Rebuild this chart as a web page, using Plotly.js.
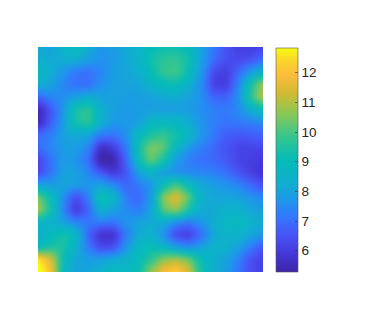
<!DOCTYPE html>
<html><head><meta charset="utf-8">
<script src="https://cdn.plot.ly/plotly-3.0.1.min.js"></script>
<style>html,body{margin:0;padding:0;background:#fff}.hm ~ .hm image{filter:blur(2.8px)}</style></head>
<body><div id="c" style="width:372px;height:324px"></div>
<script>
const row00=[8.2,8.0,8.6,9.0,8.3,7.7,7.9,8.2,8.5,9.0,9.2,9.2,9.0,8.0,7.2,6.5,6.1,6.0,6.2];
const row01=[8.3,8.2,8.3,8.3,7.9,7.6,7.8,8.1,8.5,9.3,9.7,9.8,9.3,8.0,7.0,6.4,6.3,6.5,7.0];
const row02=[8.8,8.3,7.7,7.1,7.0,7.4,7.9,8.1,8.3,9.1,9.8,10.0,9.1,7.8,6.3,6.0,6.9,7.9,8.8];
const row03=[8.3,8.0,7.4,7.0,7.0,7.6,8.0,8.0,8.1,8.5,9.0,9.1,8.4,7.6,6.1,6.0,7.4,9.4,11.1];
const row04=[6.8,7.4,7.6,8.0,8.4,8.0,8.0,7.9,7.9,8.0,8.1,8.2,8.0,7.6,6.9,6.8,7.6,9.7,11.2];
const row05=[5.3,6.6,7.8,9.4,9.8,8.4,7.9,7.8,7.9,7.9,7.9,7.9,7.9,7.6,7.3,7.2,7.5,8.3,9.1];
const row06=[5.4,6.7,7.9,9.4,9.8,8.4,7.8,7.8,7.9,8.7,8.9,8.7,8.3,7.7,7.3,7.1,7.2,7.3,7.5];
const row07=[6.9,7.3,8.0,8.2,8.1,7.2,7.1,7.6,8.8,9.5,9.8,9.4,8.7,7.8,7.2,6.7,6.6,6.7,6.8];
const row08=[7.0,7.4,7.9,7.9,7.4,5.6,6.0,7.2,9.2,10.6,10.3,8.8,7.8,7.3,6.9,6.5,6.2,6.2,6.3];
const row09=[6.2,7.1,7.9,7.7,7.0,5.1,5.3,6.8,9.0,10.4,9.4,7.8,7.3,7.0,6.9,6.6,6.2,6.1,5.9];
const row10=[6.2,7.1,8.0,8.0,7.4,6.6,5.8,6.5,8.0,8.6,7.8,7.6,7.4,7.4,7.3,7.0,6.5,6.1,5.7];
const row11=[8.0,7.9,8.1,7.9,7.8,8.0,7.5,6.8,7.2,7.7,9.0,10.0,9.0,8.2,7.9,7.7,7.4,6.9,6.4];
const row12=[10.5,9.0,7.6,6.3,7.3,9.4,8.8,7.2,6.8,7.8,10.7,11.7,10.3,8.4,8.1,8.1,8.0,7.7,7.4];
const row13=[11.0,9.3,7.4,5.9,6.8,8.5,8.0,7.5,7.2,8.0,10.2,10.8,9.4,8.2,8.2,8.4,8.5,8.1,7.9];
const row14=[8.6,8.3,8.0,7.4,7.2,7.2,7.1,7.7,8.0,8.2,8.3,7.5,7.1,7.7,8.3,8.8,8.9,8.5,8.2];
const row15=[8.3,8.9,9.4,8.8,6.8,5.7,5.7,7.2,8.2,8.5,7.6,6.2,6.0,6.9,8.1,8.5,8.5,8.1,7.6];
const row16=[8.8,9.5,9.5,8.4,7.2,6.3,6.4,7.7,8.8,9.1,8.7,8.0,7.6,8.0,8.5,8.4,8.0,7.2,6.5];
const row17=[12.8,11.5,9.0,8.1,7.9,8.0,8.3,8.5,8.9,9.7,10.7,11.1,10.5,9.1,8.3,8.0,7.3,6.4,6.1];
const row18=[13.4,12.0,8.7,8.0,8.1,8.5,9.0,8.8,9.2,10.8,12.1,12.5,11.5,9.4,8.4,7.9,7.1,6.4,6.1];
const zRows=[row00,row01,row02,row03,row04,row05,row06,row07,row08,row09,row10,row11,row12,row13,row14,row15,row16,row17,row18];
const tickVals=[6,7,8,9,10,11,12];
const zMin=5.3, zMax=12.85;
const parula=[[0,'#3e26a8'],[0.08,'#4436d8'],[0.16,'#4852f4'],[0.24,'#3575fd'],[0.32,'#1e96eb'],[0.4,'#0fafcd'],[0.5,'#04bcb8'],[0.6,'#33c590'],[0.7,'#84c85a'],[0.8,'#d2bb32'],[0.88,'#fdbc3c'],[0.94,'#f9d42a'],[1,'#f9fb14']];
const base={type:'heatmap',z:zRows,zmin:zMin,zmax:zMax,zsmooth:'best',colorscale:parula};
Plotly.newPlot('c',[{...base,showscale:false},{...base,
 colorbar:{thicknessmode:'pixels',thickness:22,lenmode:'fraction',len:224/225,x:(276-38)/225,xanchor:'left',y:0.5,yanchor:'middle',xpad:0,ypad:0,
  tickvals:tickVals,tickprefix:'\u2009',ticks:'inside',ticklen:3,tickwidth:0.6,tickcolor:'#333',outlinecolor:'#555',outlinewidth:0.6,
  tickfont:{family:'Liberation Sans, Arial, sans-serif',size:13.5,color:'#262626'}}}],
 {width:372,height:324,margin:{l:38,r:109,t:47,b:52},paper_bgcolor:'#fff',plot_bgcolor:'#fff',showlegend:false,
  xaxis:{visible:false,range:[0,18]},yaxis:{visible:false,range:[18,0]}},
 {displayModeBar:false,staticPlot:true});
</script></body></html>
